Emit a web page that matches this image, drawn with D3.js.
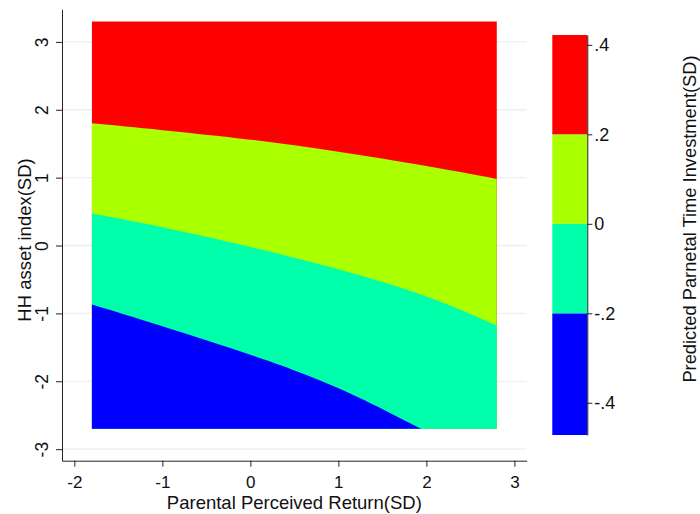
<!DOCTYPE html>
<html>
<head>
<meta charset="utf-8">
<script src="https://cdn.jsdelivr.net/npm/d3@7"></script>
<style>
  body { margin: 0; background: #fff; }
  svg { display: block; }
  text { font-family: "Liberation Sans", Arial, sans-serif; fill: #111; }
</style>
</head>
<body>
<svg id="chart" width="700" height="514"></svg>
<script>
// extent of the predicted surface (SD units)
const xExtent = [-1.8, 2.8];
const yExtent = [-2.7, 3.3];

// contour boundaries: HH asset index at each perceived return
const xCut = [-1.8, -1, 0, 1, 2, 2.8];
const cut02 = [1.80, 1.70, 1.56, 1.38, 1.17, 0.98];     // .2 level
const cut00 = [0.47, 0.27, -0.02, -0.35, -0.75, -1.18]; // 0 level
const xCutLow = [-1.8, -1, 0, 0.6, 1.2, 1.94];
const cutM02 = [-0.87, -1.19, -1.61, -1.89, -2.22, -2.70]; // -.2 level

// colour bar
const zRange = [-0.472, 0.422];
const zCuts = [-0.472, -0.2, 0, 0.2, 0.422];
const bandColors = ["#0000ff", "#00ffaa", "#aaff00", "#ff0000"];

const xTicks = [-2, -1, 0, 1, 2, 3];
const yTicks = [-3, -2, -1, 0, 1, 2, 3];
const zTicks = [-0.4, -0.2, 0, 0.2, 0.4];

const xLabel = "Parental Perceived Return(SD)";
const yLabel = "HH asset index(SD)";
const zLabel = "Predicted Parnetal Time Investment(SD)";

const AXIS = "#222";
const GRID = "#e9eff2";

const svg = d3.select("#chart");

const x = d3.scaleLinear().domain([-2.14, 3.14]).range([62, 526.7]);
const y = d3.scaleLinear().domain([-3.17, 3.48]).range([460.7, 9.3]);

// gridlines
svg.append("g")
  .selectAll("line")
  .data(yTicks)
  .join("line")
  .attr("x1", x.range()[0]).attr("x2", x.range()[1])
  .attr("y1", d => y(d)).attr("y2", d => y(d))
  .attr("stroke", GRID)
  .attr("stroke-width", 1.3);

// filled contour bands, painted from the top band down
const bottom = y(yExtent[0]);
const area = d3.area()
  .x(d => x(d[0]))
  .y0(bottom)
  .y1(d => y(d[1]))
  .curve(d3.curveNatural);

const plot = svg.append("g");
plot.append("rect")
  .attr("x", x(xExtent[0]))
  .attr("y", y(yExtent[1]))
  .attr("width", x(xExtent[1]) - x(xExtent[0]))
  .attr("height", bottom - y(yExtent[1]))
  .attr("fill", bandColors[3]);

plot.append("path")
  .datum(d3.zip(xCut, cut02))
  .attr("d", area)
  .attr("fill", bandColors[2]);

plot.append("path")
  .datum(d3.zip(xCut, cut00))
  .attr("d", area)
  .attr("fill", bandColors[1]);

plot.append("path")
  .datum(d3.zip(xCutLow, cutM02))
  .attr("d", area)
  .attr("fill", bandColors[0]);

// axes
const fmt = d => String(d);

const xAxis = svg.append("g")
  .attr("transform", `translate(0,${y.range()[0]})`)
  .call(d3.axisBottom(x).tickValues(xTicks).tickFormat(fmt).tickSize(6).tickSizeOuter(0));
xAxis.selectAll("text")
  .attr("y", 27.5).attr("dy", null)
  .attr("font-size", 17).attr("fill", "#111");

const yAxis = svg.append("g")
  .attr("transform", `translate(${x.range()[0]},0)`)
  .call(d3.axisLeft(y).tickValues(yTicks).tickFormat(fmt).tickSize(6).tickSizeOuter(0));
yAxis.selectAll(".tick text")
  .attr("x", 0).attr("y", -14).attr("dy", null)
  .attr("transform", "rotate(-90)")
  .attr("text-anchor", "middle")
  .attr("font-size", 17.5).attr("fill", "#111");

svg.selectAll(".domain, .tick line").attr("stroke", AXIS);

svg.append("text")
  .attr("x", (x.range()[0] + x.range()[1]) / 2)
  .attr("y", 508.5)
  .attr("text-anchor", "middle")
  .attr("font-size", 18.5)
  .text(xLabel);

svg.append("text")
  .attr("transform", `translate(31,240) rotate(-90)`)
  .attr("text-anchor", "middle")
  .attr("font-size", 18.5)
  .text(yLabel);

// colour bar
const z = d3.scaleLinear().domain(zRange).range([435, 35]);
const barX = 552.3, barW = 35;

svg.append("g")
  .selectAll("rect")
  .data(d3.pairs(zCuts))
  .join("rect")
  .attr("x", barX)
  .attr("y", d => z(d[1]))
  .attr("width", barW)
  .attr("height", d => z(d[0]) - z(d[1]))
  .attr("fill", (d, i) => bandColors[i]);

const zAxis = svg.append("g")
  .attr("transform", `translate(${barX + barW},0)`)
  .call(d3.axisRight(z).tickValues(zTicks)
    .tickFormat(d => String(d).replace("0.", "."))
    .tickSize(5).tickSizeOuter(0));
zAxis.selectAll("text")
  .attr("x", 7)
  .attr("font-size", 18).attr("fill", "#111");
zAxis.selectAll(".domain, .tick line").attr("stroke", AXIS);

svg.append("text")
  .attr("transform", `translate(696,219) rotate(-90)`)
  .attr("text-anchor", "middle")
  .attr("font-size", 18.3)
  .text(zLabel);
</script>
</body>
</html>
